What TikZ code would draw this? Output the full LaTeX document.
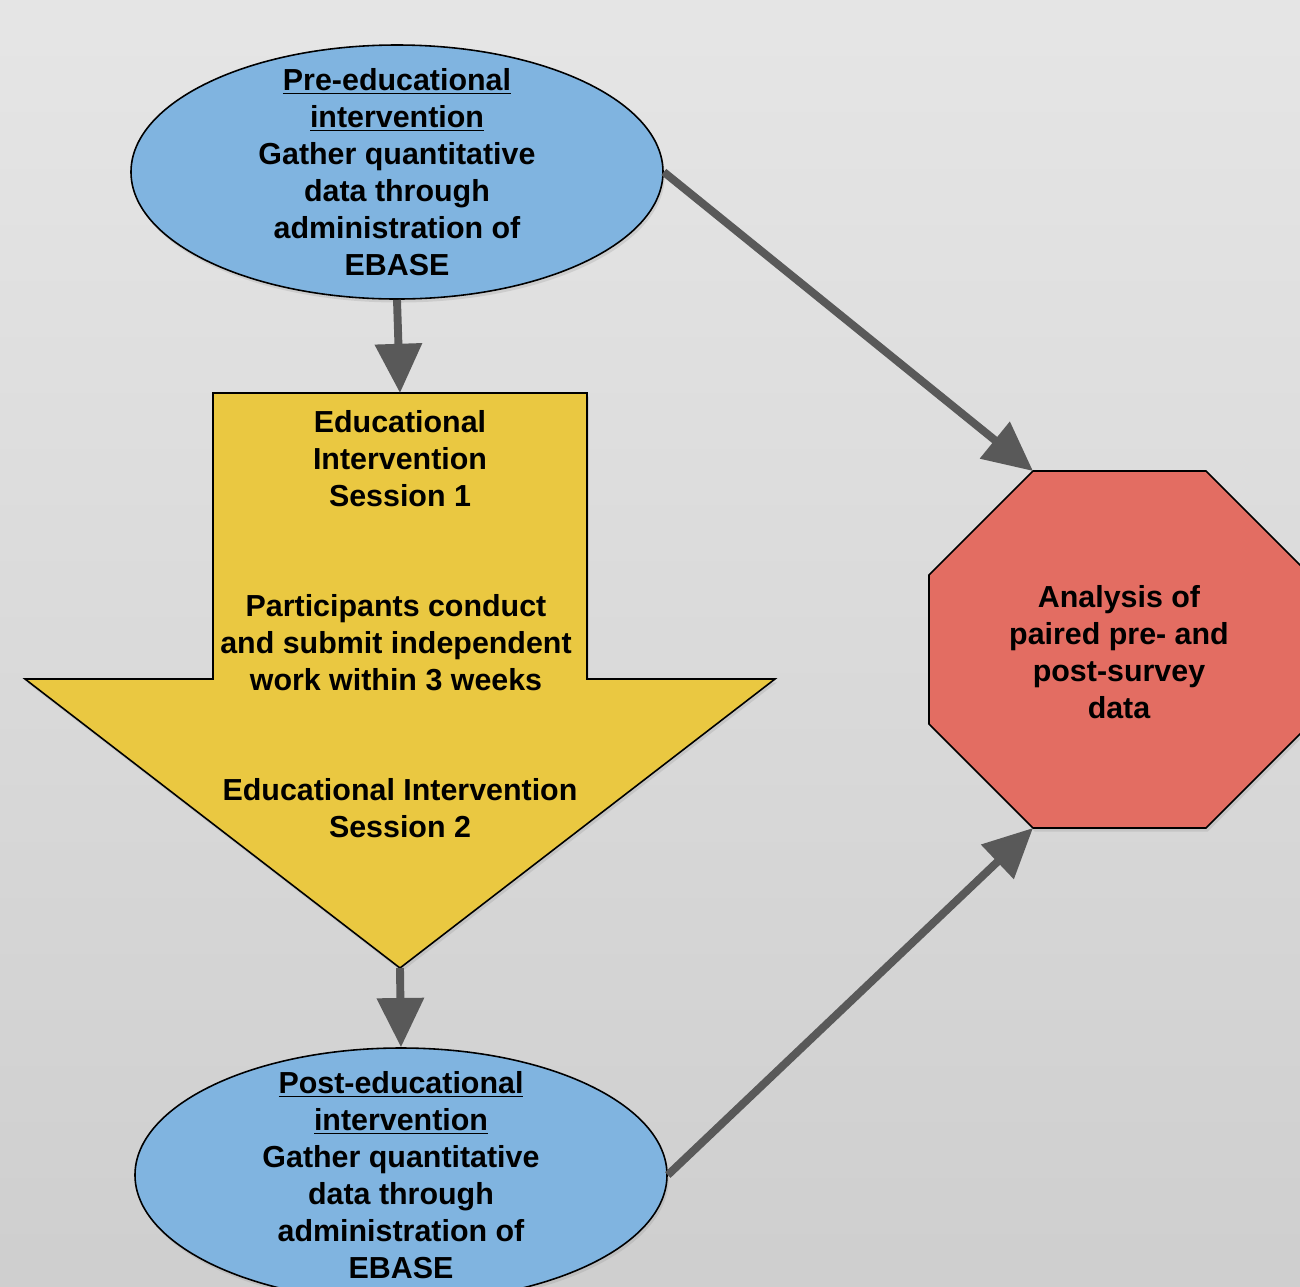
\documentclass[tikz,border=0pt]{standalone}
\usepackage{fontspec}
\setmainfont{Liberation Sans}
\usetikzlibrary{shapes.geometric, arrows.meta, shadows, positioning}

\definecolor{ovalblue}{HTML}{80B4E0}
\definecolor{sessyellow}{HTML}{EAC841}
\definecolor{octred}{HTML}{E36D62}
\definecolor{flowgray}{HTML}{595959}

\begin{document}
\begin{tikzpicture}[x=0.2mm, y=-0.2mm]
    % Define styles
    \tikzset{
        txt/.style={font=\fontsize{17.3}{21}\selectfont\bfseries, align=center},
        outline/.style={draw, line width=0.9pt},
        softshadow/.style={drop shadow={shadow xshift=1pt, shadow yshift=-2pt, opacity=0.2}},
        oval/.style={ellipse, outline, fill=ovalblue, minimum width=10.64cm, minimum height=5.08cm, inner sep=0pt, softshadow},
        flow/.style={-{Triangle[length=28pt, width=26pt]}, line width=4.5pt, draw=flowgray}
    }
    % Background and frame
    \clip (0,0) rectangle (1300,1287);
    \fill[top color=black!10, bottom color=black!19] (0,0) rectangle (1300,1287);
    % Surveys before and after
    \node[oval] (pre) at (397,172) {};
    \node[txt] (preText) at (pre) {\underline{Pre-educational}\\ \underline{intervention}\\ Gather quantitative\\ data through\\ administration of\\ EBASE};
    \node[oval] (post) at (401,1175) {};
    \node[txt] (postText) at (post) {\underline{Post-educational}\\ \underline{intervention}\\ Gather quantitative\\ data through\\ administration of\\ EBASE};
    % Block arrow with the two sessions
    \draw[outline, fill=sessyellow, softshadow] (213,393) -- (587,393) -- (587,679) -- (775,679) -- (400,968) -- (25,679) -- (213,679) -- cycle;
    \coordinate (sessTop) at (400,393);
    \coordinate (sessTip) at (400,968);
    \node[txt] (sess1) at (400,459) {Educational\\ Intervention\\ Session 1};
    \node[txt] (work) at (396,643) {Participants conduct\\ and submit independent\\ work within 3 weeks};
    \node[txt] (sess2) at (400,808) {Educational Intervention\\ Session 2};
    % Analysis octagon
    \draw[outline, fill=octred, softshadow] (1033,471) -- (1206,471) -- (1310,575) -- (1310,724) -- (1206,828) -- (1033,828) -- (929,724) -- (929,575) -- cycle;
    \coordinate (octNW) at (1033,471);
    \coordinate (octSW) at (1033,828);
    \node[txt] (analysis) at (1119,652) {Analysis of\\ paired pre- and\\ post-survey\\ data};
    % Connectors
    \draw[flow] (pre.south) -- (sessTop);
    \draw[flow] (sessTip) -- (post.north);
    \draw[flow] (pre.east) -- (octNW);
    \draw[flow] (post.east) -- (octSW);
\end{tikzpicture}
\end{document}
